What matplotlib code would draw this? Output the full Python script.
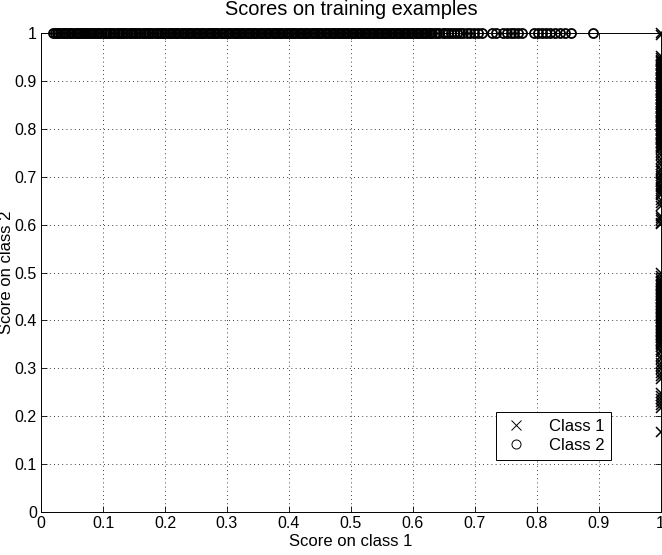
import matplotlib
matplotlib.use("Agg")
import matplotlib.pyplot as plt

plt.rcParams['font.family'] = ['Liberation Sans', 'DejaVu Sans']
plt.rcParams['font.size'] = 12

# class 1 examples: score on class 1 is 1, score on class 2 varies
class1_score2 = [1.000, 0.995, 0.952, 0.948,
                 0.944, 0.941, 0.939, 0.936, 0.933, 0.931, 0.928, 0.925, 0.922, 0.920,
                 0.917, 0.914, 0.912, 0.909, 0.906, 0.903, 0.901, 0.898, 0.895, 0.893,
                 0.890, 0.887, 0.884, 0.882, 0.879, 0.876, 0.874, 0.871, 0.868, 0.865,
                 0.863, 0.860, 0.857, 0.855, 0.852, 0.849, 0.846, 0.844, 0.841, 0.838,
                 0.836, 0.833, 0.830, 0.827, 0.825, 0.822, 0.819, 0.817, 0.814, 0.811,
                 0.808, 0.806, 0.803, 0.800, 0.798, 0.795, 0.792, 0.789, 0.787, 0.784,
                 0.781, 0.779, 0.776, 0.773, 0.770, 0.768, 0.765, 0.762, 0.760, 0.757,
                 0.751, 0.745, 0.738, 0.731, 0.724, 0.716, 0.712, 0.706, 0.701, 0.696,
                 0.692, 0.688, 0.683, 0.679, 0.675, 0.671, 0.667, 0.661, 0.652, 0.645,
                 0.638, 0.619, 0.614, 0.609, 0.604, 0.601,
                 0.499, 0.492, 0.486, 0.483, 0.480, 0.477, 0.474, 0.471, 0.468, 0.465,
                 0.462, 0.459, 0.456, 0.453, 0.450, 0.447, 0.444, 0.441, 0.438, 0.435,
                 0.432, 0.429, 0.426, 0.423, 0.420, 0.417, 0.414, 0.411, 0.408, 0.405,
                 0.402, 0.399, 0.396, 0.393, 0.390, 0.387, 0.384, 0.381, 0.378, 0.375,
                 0.372, 0.369, 0.366, 0.363, 0.360, 0.357, 0.354, 0.351, 0.348, 0.345,
                 0.339, 0.333, 0.326, 0.319, 0.311, 0.304, 0.298, 0.291, 0.284, 0.277,
                 0.248, 0.242, 0.236, 0.229, 0.223, 0.218, 0.167]
class1_score1 = [1.0] * len(class1_score2)

# class 2 examples: score on class 2 is 1, score on class 1 varies
class2_score1 = [0.020, 0.022, 0.026, 0.028, 0.031, 0.035, 0.037, 0.040, 0.043, 0.047,
                 0.049, 0.052, 0.056, 0.058, 0.061, 0.064, 0.067, 0.071, 0.073, 0.076,
                 0.079, 0.083, 0.085, 0.088, 0.092, 0.094, 0.097, 0.101, 0.103, 0.106,
                 0.110, 0.112, 0.115, 0.118, 0.122, 0.124, 0.127, 0.131, 0.133, 0.136,
                 0.139, 0.143, 0.145, 0.148, 0.152, 0.154, 0.157, 0.160, 0.164, 0.166,
                 0.169, 0.173, 0.175, 0.178, 0.181, 0.185, 0.187, 0.190, 0.194, 0.196,
                 0.199, 0.202, 0.206, 0.208, 0.211, 0.215, 0.217, 0.220, 0.223, 0.227,
                 0.229, 0.232, 0.236, 0.238, 0.241, 0.244, 0.248, 0.250, 0.253, 0.257,
                 0.259, 0.262, 0.265, 0.269, 0.271, 0.274, 0.278, 0.280, 0.283, 0.286,
                 0.290, 0.292, 0.295, 0.299, 0.301, 0.304, 0.307, 0.311, 0.313, 0.316,
                 0.320, 0.322, 0.325, 0.328, 0.332, 0.334, 0.337, 0.341, 0.343, 0.346,
                 0.349, 0.353, 0.355, 0.358, 0.362, 0.364, 0.367, 0.370, 0.374, 0.376,
                 0.379, 0.383, 0.385, 0.388, 0.391, 0.395, 0.397, 0.400, 0.404, 0.406,
                 0.409, 0.412, 0.416, 0.418, 0.421, 0.425, 0.427, 0.430, 0.433, 0.437,
                 0.439, 0.442, 0.446, 0.448, 0.451, 0.454, 0.458, 0.460, 0.463, 0.467,
                 0.469, 0.472, 0.475, 0.479, 0.481, 0.484, 0.488, 0.490, 0.493, 0.496,
                 0.500, 0.502, 0.505, 0.509, 0.511, 0.514, 0.517, 0.521, 0.523, 0.526,
                 0.530, 0.532, 0.535, 0.538, 0.542, 0.544, 0.547, 0.551, 0.553, 0.556,
                 0.559, 0.563, 0.565, 0.568, 0.572, 0.574, 0.577, 0.580, 0.584, 0.586,
                 0.589, 0.593, 0.595, 0.598, 0.601, 0.605, 0.607, 0.610, 0.614, 0.616,
                 0.619, 0.622, 0.626, 0.628, 0.631,
                 0.635, 0.639, 0.643, 0.648, 0.652, 0.657, 0.661, 0.666, 0.671, 0.676,
                 0.681, 0.687, 0.693, 0.699, 0.705, 0.711,
                 0.728, 0.735, 0.745, 0.752, 0.758, 0.763, 0.770, 0.776,
                 0.795, 0.802, 0.808, 0.815, 0.822, 0.830, 0.838, 0.846, 0.855, 0.890]
class2_score2 = [1.0] * len(class2_score1)

ticks = [0, 0.1, 0.2, 0.3, 0.4, 0.5, 0.6, 0.7, 0.8, 0.9, 1]
tick_labels = ['0', '0.1', '0.2', '0.3', '0.4', '0.5', '0.6', '0.7', '0.8', '0.9', '1']

fig = plt.figure(figsize=(6.62, 5.55), dpi=100)
ax = fig.add_axes([0.062, 0.0775, 0.936, 0.863])

ax.plot(class1_score1, class1_score2, 'x', color='black', ms=6.5, mew=1.1,
        label='Class 1', clip_on=False)
ax.plot(class2_score1, class2_score2, 'o', color='black', mfc='none', ms=6.5, mew=1.3,
        label='Class 2', clip_on=False)

ax.set_xlim(0, 1)
ax.set_ylim(0, 1)
ax.set_xticks(ticks)
ax.set_xticklabels(tick_labels)
ax.set_yticks(ticks)
ax.set_yticklabels(tick_labels)
ax.tick_params(direction='in', length=4, width=0.6, top=True, right=True, pad=3,
               labelsize=11.5)
ax.grid(True, color='black', linestyle=(0, (1, 4)), linewidth=0.6)
for s in ax.spines.values():
    s.set_linewidth(0.7)

ax.set_title('Scores on training examples', pad=13)
ax.set_xlabel('Score on class 1', labelpad=2)
ax.set_ylabel('Score on class 2')
ax.yaxis.set_label_coords(-0.043, 0.5)

leg = ax.legend(loc='lower left', bbox_to_anchor=(0.734, 0.109), borderaxespad=0,
                fancybox=False, framealpha=1, edgecolor='black', handlelength=1.6,
                borderpad=0.4, labelspacing=0.25, handletextpad=1.2)
leg.get_frame().set_linewidth(0.7)
for h in leg.legend_handles:
    h.set_markeredgewidth(0.7)

fig.savefig('out.png', dpi=100)
